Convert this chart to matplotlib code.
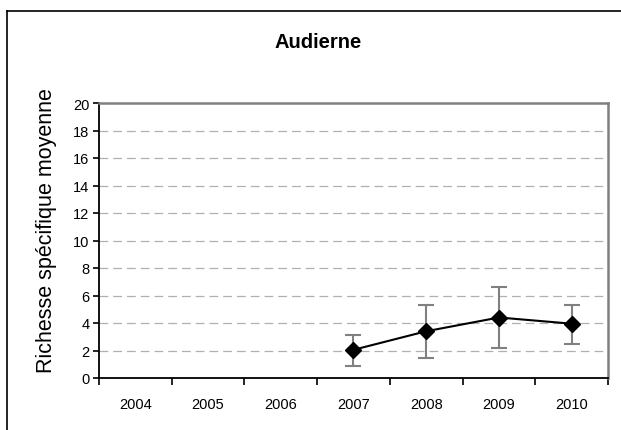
import numpy as np
import matplotlib
matplotlib.use("Agg")
import matplotlib.pyplot as plt
from matplotlib.lines import Line2D

plt.rcParams['font.family'] = ['Liberation Sans', 'DejaVu Sans']

years = ["2004", "2005", "2006", "2007", "2008", "2009", "2010"]
mean_richness = [np.nan, np.nan, np.nan, 2.05, 3.4, 4.4, 3.95]
err_low = [np.nan, np.nan, np.nan, 0.9, 1.45, 2.2, 2.5]
err_high = [np.nan, np.nan, np.nan, 3.1, 5.3, 6.6, 5.3]
y_ticks = [0, 2, 4, 6, 8, 10, 12, 14, 16, 18, 20]

W, H = 621, 431
fig = plt.figure(figsize=(W / 100, H / 100), dpi=100)
ax = fig.add_axes([99 / W, 1 - 379 / H, (608 - 99) / W, (379 - 104) / H])

x = np.arange(len(years))
m = np.array(mean_richness)
lo = m - np.array(err_low)
hi = np.array(err_high) - m

ax.errorbar(x, m, yerr=[lo, hi], fmt='none', ecolor='#808080',
            elinewidth=1.5, capsize=5.5, capthick=1.5, zorder=3)
ax.plot(x, m, color='black', lw=1.5, marker='D', markersize=8,
        markerfacecolor='black', markeredgecolor='black', zorder=4)

ax.set_xlim(-0.5, len(years) - 0.5)
ax.set_ylim(0, 20)
ax.set_yticks(y_ticks)
ax.set_yticklabels([str(t) for t in y_ticks], fontsize=10.5)
ax.set_xticks(x)
ax.set_xticklabels(years, fontsize=10.5)
ax.tick_params(axis='x', length=0, pad=14)
ax.set_xticks(np.arange(-0.5, len(years)), minor=True)
ax.tick_params(axis='x', which='minor', length=5, width=1.2, direction='out')
ax.tick_params(axis='y', length=4, width=1.2, direction='out', pad=3)

for t in y_ticks[1:-1]:
    ax.axhline(t, color='#b0b0b0', lw=0.9, ls=(0, (7, 4)), zorder=1)

for s in ['left', 'bottom']:
    ax.spines[s].set_color('black')
    ax.spines[s].set_linewidth(1.3)
for s in ['top', 'right']:
    ax.spines[s].set_color('#808080')
    ax.spines[s].set_linewidth(1.8)

ax.set_ylabel('Richesse spécifique moyenne', fontsize=15.5, ha='center', va='center')
ax.yaxis.set_label_coords((47 - 99) / 509, (379 - 231) / 275)

fig.text(318 / W, 1 - 42 / H, 'Audierne', fontsize=14.5, fontweight='bold',
         ha='center', va='center')

fig.add_artist(Line2D([7 / W, 7 / W], [0, 1 - 12 / H], color='black', lw=1.2,
                      transform=fig.transFigure))
fig.add_artist(Line2D([7 / W, 1], [1 - 12 / H, 1 - 12 / H], color='black', lw=1.2,
                      transform=fig.transFigure))

fig.savefig('out.png', dpi=100)
